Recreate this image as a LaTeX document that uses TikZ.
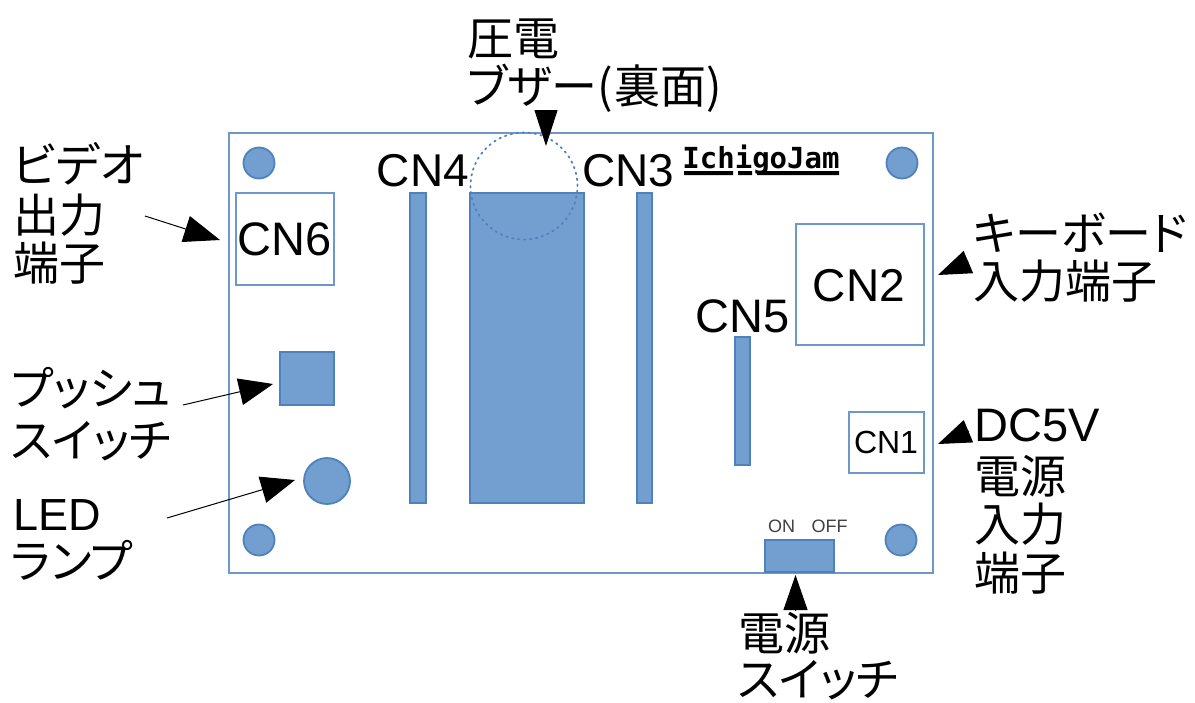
\documentclass[tikz,border=0pt]{standalone}
\usepackage{fontspec}
\setmainfont{Liberation Sans}
\newfontfamily\jpfont{Noto Sans CJK JP}
\newfontfamily\jppfont[RawFeature=+palt]{Noto Sans CJK JP}
\newfontfamily\logofont{DejaVu Sans Mono}
\usetikzlibrary{arrows.meta}
\definecolor{partfill}{HTML}{729FCF}
\definecolor{partline}{HTML}{4F81BD}
\definecolor{boardline}{HTML}{6E98CC}
\tikzset{
  x=1pt,y=-1pt,
  board/.style={draw=boardline,line width=1.8pt},
  outlinebox/.style={draw=boardline,line width=1.8pt,fill=white},
  part/.style={draw=partline,line width=1.8pt,fill=partfill},
  hole/.style={part,circle,inner sep=0pt,minimum size=#1},
  cn/.style={font=\fontsize{46}{46}\selectfont,inner sep=0pt,anchor=base},
  lab/.style={font=\jpfont\fontsize{46}{46}\selectfont,inner sep=0pt,anchor=base west,text=black},
  kana/.style={font=\jppfont\fontsize{46}{46}\selectfont,inner sep=0pt,anchor=base west,text=black},
  pointer/.style={draw=black,line width=1pt},
}
\begin{document}
\begin{tikzpicture}
\useasboundingbox (0,0) rectangle (1195,702);
% board
\node[board,minimum width=704pt,minimum height=440pt,inner sep=0pt,anchor=north west] (board) at (228,132) {};
% screw holes
\node[hole=31pt] (h1) at (259,163) {};
\node[hole=31pt] (h2) at (902,163) {};
\node[hole=31pt] (h3) at (259,540) {};
\node[hole=31pt] (h4) at (901,540) {};
% parts
\node[part,minimum width=114pt,minimum height=310pt,inner sep=0pt] (ic) at (527,348) {};
\node[part,minimum width=16pt,minimum height=310pt,inner sep=0pt] (cnfour) at (418,348) {};
\node[part,minimum width=15pt,minimum height=310pt,inner sep=0pt] (cnthree) at (644.5,348) {};
\node[part,minimum width=15pt,minimum height=128pt,inner sep=0pt] (cnfive) at (742.5,401) {};
\node[part,minimum width=54pt,minimum height=53pt,inner sep=0pt] (push) at (307,378.5) {};
\node[hole=46pt] (led) at (327,481) {};
\node[part,minimum width=69pt,minimum height=32pt,inner sep=0pt] (pwr) at (799.5,556) {};
% buzzer outline
\node[circle,draw=partline,line width=1.8pt,line cap=round,dash pattern=on 1.5pt off 4.5pt,minimum size=107pt,inner sep=0pt] (buzzer) at (524,186) {};
% connectors
\node[outlinebox,minimum width=98pt,minimum height=92pt,inner sep=0pt] (cnsix) at (285,239) {};
\node[outlinebox,minimum width=128pt,minimum height=121pt,inner sep=0pt] (cntwo) at (860,284.5) {};
\node[outlinebox,minimum width=75pt,minimum height=61pt,inner sep=0pt] (cnone) at (886.5,442.5) {};
% connector names
\node[cn,font=\fontsize{47}{47}\selectfont] (t6) at (285,255) {CN6};
\node[cn] (t2) at (859,301) {CN2};
\node[cn,font=\fontsize{32}{32}\selectfont] (t1) at (886,453) {CN1};
\node[cn] (t4) at (423,186) {CN4};
\node[cn] (t3) at (628.5,186) {CN3};
\node[cn,font=\fontsize{47}{47}\selectfont] (t5) at (742.5,332) {CN5};
\node[font=\fontsize{18}{18}\selectfont,inner sep=0pt,text=black!75] (on) at (781.5,526) {ON};
\node[font=\fontsize{18}{18}\selectfont,inner sep=0pt,text=black!75] (off) at (829.5,526) {OFF};
% logo
\node[font=\logofont\bfseries\fontsize{29}{29}\selectfont,inner sep=0pt,anchor=base] (logo) at (761,168) {IchigoJam};
\fill[black] (684,171) rectangle (733,175) (738,171) rectangle (752,175) (757,171) rectangle (839,175);
% labels
\node[lab] (a1) at (467,55) {圧電};
\node[kana] (a2) at (467,103) {ブザー(\hspace{2pt}{\jpfont 裏面})};
\node[kana,font=\jppfont\fontsize{47}{47}\selectfont] (b1) at (13,182) {ビデオ};
\node[lab] (b2) at (13,232) {出力};
\node[lab] (b3) at (13,280) {端子};
\node[kana] (c1) at (11,405) {プッシュ};
\node[kana] (c2) at (11,457) {スイッチ};
\node[lab,font=\fontsize{45}{45}\selectfont] (d1) at (13,530) {LED};
\node[kana] (d2) at (11,578) {ランプ};
\node[kana] (e1) at (973,250) {キーボード};
\node[lab] (e2) at (973,298) {入力端子};
\node[lab,font=\fontsize{47}{47}\selectfont] (f1) at (974,441) {DC5V};
\node[lab] (f2) at (974,493) {電源};
\node[lab] (f3) at (974,541) {入力};
\node[lab] (f4) at (974,590) {端子};
\node[lab] (g1) at (738,650) {電源};
\node[kana] (g2) at (738,696) {スイッチ};
% pointers
\coordinate (pa1) at (145,216); \coordinate (pa2) at (220,240);
\coordinate (pb1) at (183,405); \coordinate (pb2) at (273,384);
\coordinate (pc1) at (167,518); \coordinate (pc2) at (295,480);
\coordinate (pd1) at (546,110); \coordinate (pd2) at (546,146);
\coordinate (pe1) at (968.5,262); \coordinate (pe2) at (938,275);
\coordinate (pf1) at (969,431); \coordinate (pf2) at (938,444);
\coordinate (pg1) at (795.5,610); \coordinate (pg2) at (795.5,575);
\draw[pointer,-{Triangle[length=36pt,width=27pt]}] (pa1) -- (pa2);
\draw[pointer,-{Triangle[length=34pt,width=27pt]}] (pb1) -- (pb2);
\draw[pointer,-{Triangle[length=34pt,width=27pt]}] (pc1) -- (pc2);
\draw[pointer,-{Triangle[length=36pt,width=23pt]}] (pd1) -- (pd2);
\draw[pointer,-{Triangle[length=33pt,width=24pt]}] (pe1) -- (pe2);
\draw[pointer,-{Triangle[length=33pt,width=24pt]}] (pf1) -- (pf2);
\draw[pointer,-{Triangle[length=35pt,width=24pt]}] (pg1) -- (pg2);
\end{tikzpicture}
\end{document}
